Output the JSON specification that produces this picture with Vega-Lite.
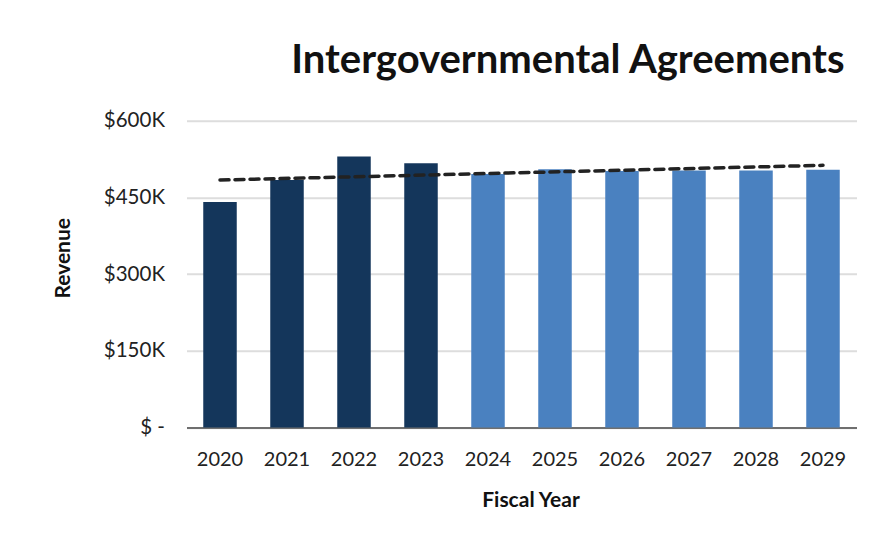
{
  "$schema": "https://vega.github.io/schema/vega-lite/v6.json",
  "width": 670,
  "height": 306.7,
  "autosize": {"type": "none"},
  "padding": {"left": 186.5, "top": 120.8, "right": 31.5, "bottom": 117.5},
  "background": "white",
  "config": {"view": {"stroke": null}, "font": "Lato"},
  "title": {
    "text": "Intergovernmental Agreements",
    "anchor": "end",
    "frame": "group",
    "font": "Lato",
    "fontSize": 40,
    "fontWeight": "bold",
    "color": "#111111",
    "offset": 30,
    "dx": -12
  },
  "data": {
    "values": [
      {"year": 2020, "revenue": 441000, "type": "Actual"},
      {"year": 2021, "revenue": 484000, "type": "Actual"},
      {"year": 2022, "revenue": 530000, "type": "Actual"},
      {"year": 2023, "revenue": 517000, "type": "Actual"},
      {"year": 2024, "revenue": 496000, "type": "Projected"},
      {"year": 2025, "revenue": 505000, "type": "Projected"},
      {"year": 2026, "revenue": 502000, "type": "Projected"},
      {"year": 2027, "revenue": 503000, "type": "Projected"},
      {"year": 2028, "revenue": 503000, "type": "Projected"},
      {"year": 2029, "revenue": 504000, "type": "Projected"}
    ]
  },
  "encoding": {
    "x": {
      "field": "year",
      "type": "ordinal",
      "scale": {"paddingInner": 0.5, "paddingOuter": 0.25},
      "axis": {
        "title": "Fiscal Year",
        "titleFont": "Lato",
        "titleFontSize": 21,
        "titleFontWeight": "bold",
        "titleColor": "#111111",
        "titlePadding": 20,
        "titleX": 344,
        "labelAngle": 0,
        "labelFontSize": 20,
        "labelColor": "#222222",
        "labelPadding": 22,
        "ticks": false,
        "domainColor": "#6f6f6f",
        "domainWidth": 2
      }
    }
  },
  "layer": [
    {
      "mark": {"type": "bar"},
      "encoding": {
        "y": {
          "field": "revenue",
          "type": "quantitative",
          "scale": {"domain": [0, 600000]},
          "axis": {
            "title": "Revenue",
            "titleFont": "Lato",
            "titleFontSize": 21,
            "titleFontWeight": "bold",
            "titleColor": "#111111",
            "titlePadding": 30,
            "titleY": 137,
            "values": [0, 150000, 300000, 450000, 600000],
            "labelExpr": "datum.value == 0 ? '$ -' : '$' + (datum.value / 1000) + 'K'",
            "labelFontSize": 20.5,
            "labelColor": "#222222",
            "labelPadding": 22,
            "ticks": false,
            "domain": false,
            "gridColor": "#dddddd",
            "gridWidth": 2
          }
        },
        "color": {
          "field": "type",
          "type": "nominal",
          "scale": {"domain": ["Actual", "Projected"], "range": ["#14365b", "#4a81c0"]},
          "legend": null
        }
      }
    },
    {
      "transform": [{"regression": "revenue", "on": "year"}],
      "mark": {"type": "line", "color": "#222222", "strokeWidth": 3.5, "strokeDash": [9, 6], "strokeCap": "round"},
      "encoding": {
        "y": {"field": "revenue", "type": "quantitative"}
      }
    }
  ]
}
